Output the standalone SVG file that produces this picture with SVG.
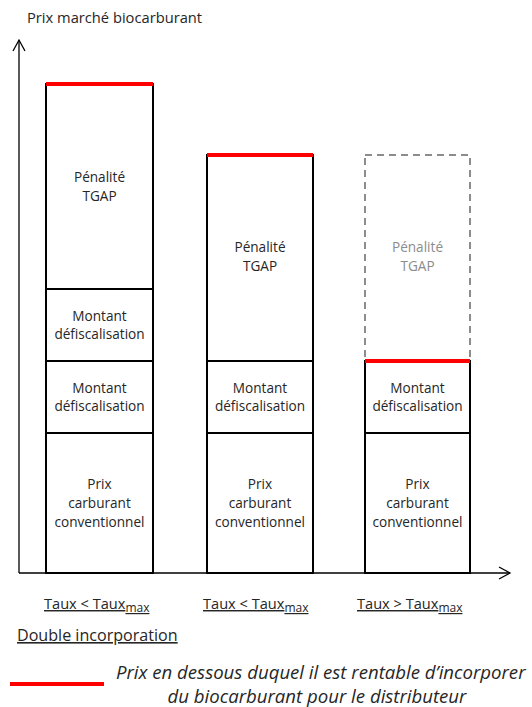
<svg xmlns="http://www.w3.org/2000/svg" width="532" height="707" viewBox="0 0 532 707">
<defs>
<marker id="arr" markerWidth="14" markerHeight="14" refX="12" refY="7" orient="auto" markerUnits="userSpaceOnUse">
<path d="M1,1 L12,7 L1,13" fill="none" stroke="#000" stroke-width="1.3"/>
</marker>
<style>
text{font-family:"Open Sans","Liberation Sans",sans-serif;fill:#262626;font-size:13.6px}
.c{text-anchor:middle}
.g{fill:#8c8c8c}
.box{fill:#fff;stroke:#000;stroke-width:2}
.dash{fill:none;stroke:#8c8c8c;stroke-width:2;stroke-dasharray:7,5}
.red{stroke:#ff0000;stroke-width:4}
.ax{stroke:#000;stroke-width:1.3;fill:none}
.u{text-decoration:underline}
.t{font-size:14.7px}
.x{font-size:14.6px}
.sub{font-size:12px}
.d{font-size:16.1px}
.it{font-style:italic;font-size:18.6px}
</style>
</defs>
<text class="t" x="27" y="23">Prix marché biocarburant</text>
<g id="connectors">
<line class="ax" x1="19" y1="573" x2="19" y2="40" marker-end="url(#arr)"/>
<line class="ax" x1="19" y1="573" x2="510" y2="573" marker-end="url(#arr)"/>
</g>
<g id="bar1">
<rect class="box" x="46" y="84" width="107" height="205"/>
<rect class="box" x="46" y="289" width="107" height="72"/>
<rect class="box" x="46" y="361" width="107" height="72"/>
<rect class="box" x="46" y="433" width="107" height="140"/>
<line class="red" x1="46" y1="84" x2="153" y2="84"/>
<text class="c" x="99.5" y="182">Pénalité</text>
<text class="c" x="99.5" y="201">TGAP</text>
<text class="c" x="99.5" y="321">Montant</text>
<text class="c" x="99.5" y="339">défiscalisation</text>
<text class="c" x="99.5" y="393">Montant</text>
<text class="c" x="99.5" y="411">défiscalisation</text>
<text class="c" x="99.5" y="489">Prix</text>
<text class="c" x="99.5" y="508">carburant</text>
<text class="c" x="99.5" y="527">conventionnel</text>
</g>
<g id="bar2">
<rect class="box" x="207" y="155" width="106" height="206"/>
<rect class="box" x="207" y="361" width="106" height="72"/>
<rect class="box" x="207" y="433" width="106" height="140"/>
<line class="red" x1="207" y1="155" x2="313" y2="155"/>
<text class="c" x="260" y="252">Pénalité</text>
<text class="c" x="260" y="271">TGAP</text>
<text class="c" x="260" y="393">Montant</text>
<text class="c" x="260" y="411">défiscalisation</text>
<text class="c" x="260" y="489">Prix</text>
<text class="c" x="260" y="508">carburant</text>
<text class="c" x="260" y="527">conventionnel</text>
</g>
<g id="bar3">
<rect class="dash" x="365" y="155" width="105" height="206"/>
<rect class="box" x="365" y="361" width="105" height="72"/>
<rect class="box" x="365" y="433" width="105" height="140"/>
<line class="red" x1="365" y1="361" x2="470" y2="361"/>
<text class="c g" x="417.5" y="252">Pénalité</text>
<text class="c g" x="417.5" y="271">TGAP</text>
<text class="c" x="417.5" y="393">Montant</text>
<text class="c" x="417.5" y="411">défiscalisation</text>
<text class="c" x="417.5" y="489">Prix</text>
<text class="c" x="417.5" y="508">carburant</text>
<text class="c" x="417.5" y="527">conventionnel</text>
</g>
<g id="labels">
<text x="44" y="609" class="x u">Taux &lt; Taux<tspan class="sub" dy="3">max</tspan></text>
<text x="203" y="609" class="x u">Taux &lt; Taux<tspan class="sub" dy="3">max</tspan></text>
<text x="357" y="609" class="x u">Taux &gt; Taux<tspan class="sub" dy="3">max</tspan></text>
<text x="17" y="641" class="d u">Double incorporation</text>
</g>
<g id="legend">
<line class="red" x1="10" y1="684" x2="104" y2="684" stroke-width="5"/>
<text class="it" x="116" y="679">Prix en dessous duquel il est rentable d’incorporer</text>
<text class="it c" x="317" y="703">du biocarburant pour le distributeur</text>
</g>
</svg>
